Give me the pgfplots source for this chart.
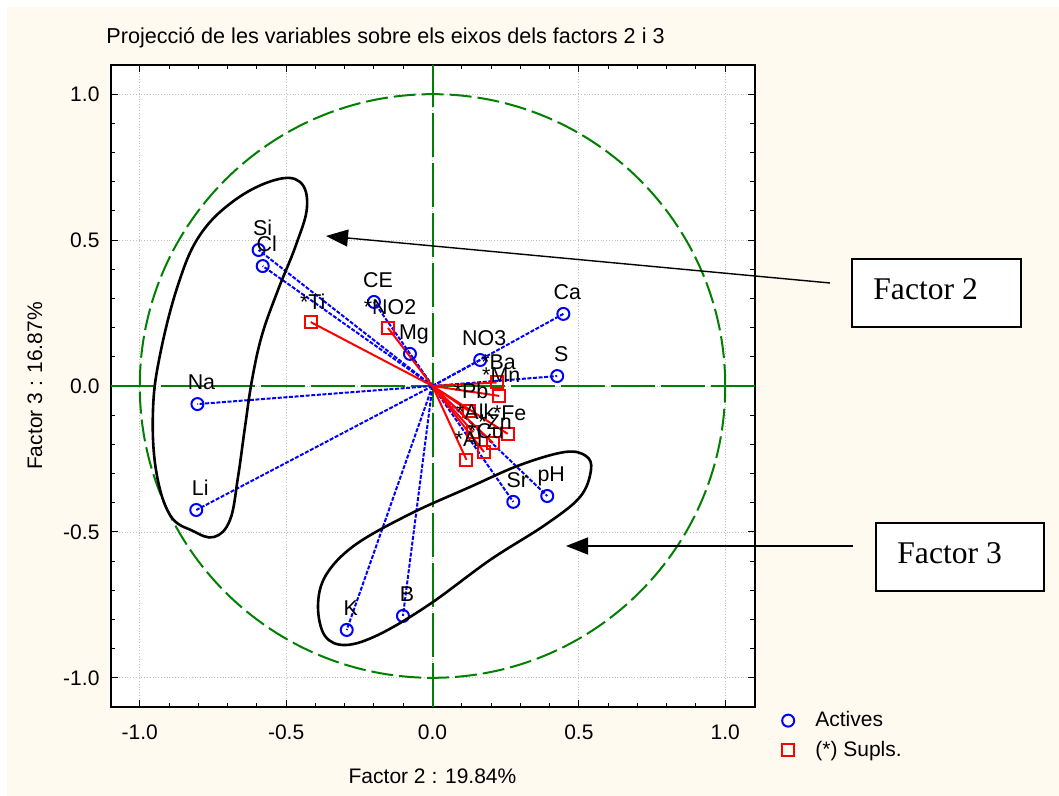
\documentclass[border=0pt]{standalone}
\usepackage{pgfplots}
\pgfplotsset{compat=1.18}
\usepackage{pgfplotstable}
\usepackage{fontspec}
\setmainfont{Liberation Sans}
\newfontfamily\boxfont{Liberation Serif}
\usetikzlibrary{arrows.meta}

\definecolor{paper}{RGB}{255,250,240}
\definecolor{circgreen}{RGB}{0,128,0}

% active variables: coordinates on factors 2 and 3
\pgfplotstableread{
x y lab
-0.594 0.466 Si
-0.580 0.411 Cl
-0.200 0.288 CE
-0.077 0.110 Mg
0.163 0.089 NO3
0.447 0.247 Ca
0.426 0.034 S
-0.803 -0.062 Na
-0.807 -0.425 Li
0.276 -0.397 Sr
0.392 -0.377 pH
-0.293 -0.836 K
-0.101 -0.788 B
}\actives

% supplementary variables
\pgfplotstableread{
x y lab
-0.416 0.219 *Ti
-0.152 0.199 *NO2
0.219 0.012 *Ba
0.228 -0.034 *Mn
0.125 -0.086 *Pb
0.139 -0.158 *Alk
0.257 -0.164 *Fe
0.207 -0.195 *Zn
0.176 -0.226 *Cu
0.116 -0.253 *Al
}\supls

\begin{document}
\begin{tikzpicture}
% page background
\fill[white] (0,0) rectangle (529.5pt,398pt);
\fill[paper] (3.5pt,0) rectangle (529.5pt,394.5pt);

\begin{axis}[
  at={(55.25pt,44.5pt)}, anchor=south west,
  scale only axis, width=322pt, height=321pt,
  xmin=-1.1, xmax=1.1, ymin=-1.1, ymax=1.1,
  axis background/.style={fill=white},
  axis line style={line width=1pt},
  xtick={-1,-0.5,0,0.5,1}, ytick={-1,-0.5,0,0.5,1},
  minor tick num=4,
  tick align=inside,
  major tick length=3.5pt, minor tick length=2.2pt,
  every tick/.style={black, line width=0.5pt},
  grid=major,
  major grid style={densely dotted, black!25, line width=0.4pt},
  /pgf/number format/assume math mode=true,
  /pgf/number format/.cd, fixed, fixed zerofill, precision=1, /pgfplots/.cd,
  tick label style={font=\fontsize{10.5}{12}\selectfont},
  xticklabel style={yshift=-5.5pt},
  yticklabel style={xshift=-2pt},
  legend image code/.code={
    \path (0cm,0cm) (0.75cm,0cm);
    \draw[#1] plot coordinates {(0.36cm,0cm)};},
  legend style={at={(axis description cs:1.009,0.006)}, anchor=north west,
    draw=none, fill=none, font=\fontsize{10.5}{12}\selectfont,
    row sep=1.6pt, legend cell align=left},
  clip=false,
]
% reference lines and unit circle
\draw[circgreen, line width=1pt, dash pattern=on 22pt off 3pt]
  (axis cs:0,-1.1) -- (axis cs:0,1.1);
\draw[circgreen, line width=1pt, dash pattern=on 22pt off 3pt]
  (axis cs:-1.1,0) -- (axis cs:1.1,0);
\draw[circgreen, line width=1pt, dash pattern=on 11pt off 3pt]
  (axis cs:0,0) circle[radius=1];

% vectors from the origin
\addplot[blue, line width=1pt, dash pattern=on 2pt off 0.8pt, no marks,
  quiver={u=\thisrow{x}, v=\thisrow{y}}, forget plot]
  table[x expr=0, y expr=0] {\actives};
\addplot[red, line width=1pt, no marks,
  quiver={u=\thisrow{x}, v=\thisrow{y}}, forget plot]
  table[x expr=0, y expr=0] {\supls};

% variable markers with their names
\addplot[only marks, mark=o, blue, mark size=3pt, line width=1pt,
  nodes near coords, point meta=explicit symbolic,
  every node near coord/.style={anchor=base, xshift=2pt, yshift=7.2pt,
    inner sep=0pt, text=black, font=\fontsize{10.7}{12}\selectfont}]
  table[meta=lab] {\actives};
\addlegendentry{Actives}
\addplot[only marks, mark=square, red, mark size=3pt, line width=1pt,
  nodes near coords, point meta=explicit symbolic,
  every node near coord/.style={anchor=base, xshift=1pt, yshift=6.5pt,
    inner sep=0pt, text=black, font=\fontsize{10.7}{12}\selectfont}]
  table[meta=lab] {\supls};
\addlegendentry{(*) Supls.}
\end{axis}

% annotations, in a top-left based grid of half points
\begin{scope}[x=0.5pt, y=-0.5pt, yshift=398pt]
\node[anchor=base west, inner sep=0pt, font=\fontsize{10.8}{13}\selectfont]
  at (106,43.3) {Projecció de les variables sobre els eixos dels factors 2 i 3};
\node[anchor=base, inner sep=0pt, font=\fontsize{10.5}{12}\selectfont]
  at (432.5,784) {Factor 2 : 19.84\%};
\node[anchor=base, rotate=90, inner sep=0pt, font=\fontsize{10.5}{12}\selectfont]
  at (42,386) {Factor 3 : 16.87\%};

% grouping outlines
\draw[line width=1.3pt] plot[smooth cycle, tension=0.65] coordinates {
  (300,182) (307,207) (296,245) (278,290) (262,335) (252,380) (245,427)
  (238,477) (230,520) (214,537) (193,531) (170,515) (156,470) (153,410)
  (160,355) (178,285) (200,235) (235,200) (275,180)};
\draw[line width=1.3pt] plot[smooth cycle, tension=0.6] coordinates {
  (591,470) (580,497) (545,525) (490,560) (430,604) (380,634) (346,645)
  (325,636) (318,606) (326,575) (355,545) (410,514) (470,487) (520,465)
  (565,452) (586,456)};

% factor call-outs
\draw[line width=0.7pt, -{Triangle[length=11pt, width=8.5pt]}]
  (830,283) -- (326,236);
\draw[line width=0.7pt, -{Triangle[length=11pt, width=8.5pt]}]
  (853,546) -- (566,546);
\draw[line width=0.8pt, fill=white] (852,259) rectangle (1021,327);
\node[anchor=base west, inner sep=0pt, font=\boxfont\fontsize{15.8}{18}\selectfont]
  at (873,300) {Factor 2};
\draw[line width=0.8pt, fill=white] (876,523) rectangle (1044,591);
\node[anchor=base west, inner sep=0pt, font=\boxfont\fontsize{15.8}{18}\selectfont]
  at (897,564) {Factor 3};
\end{scope}
\end{tikzpicture}
\end{document}
